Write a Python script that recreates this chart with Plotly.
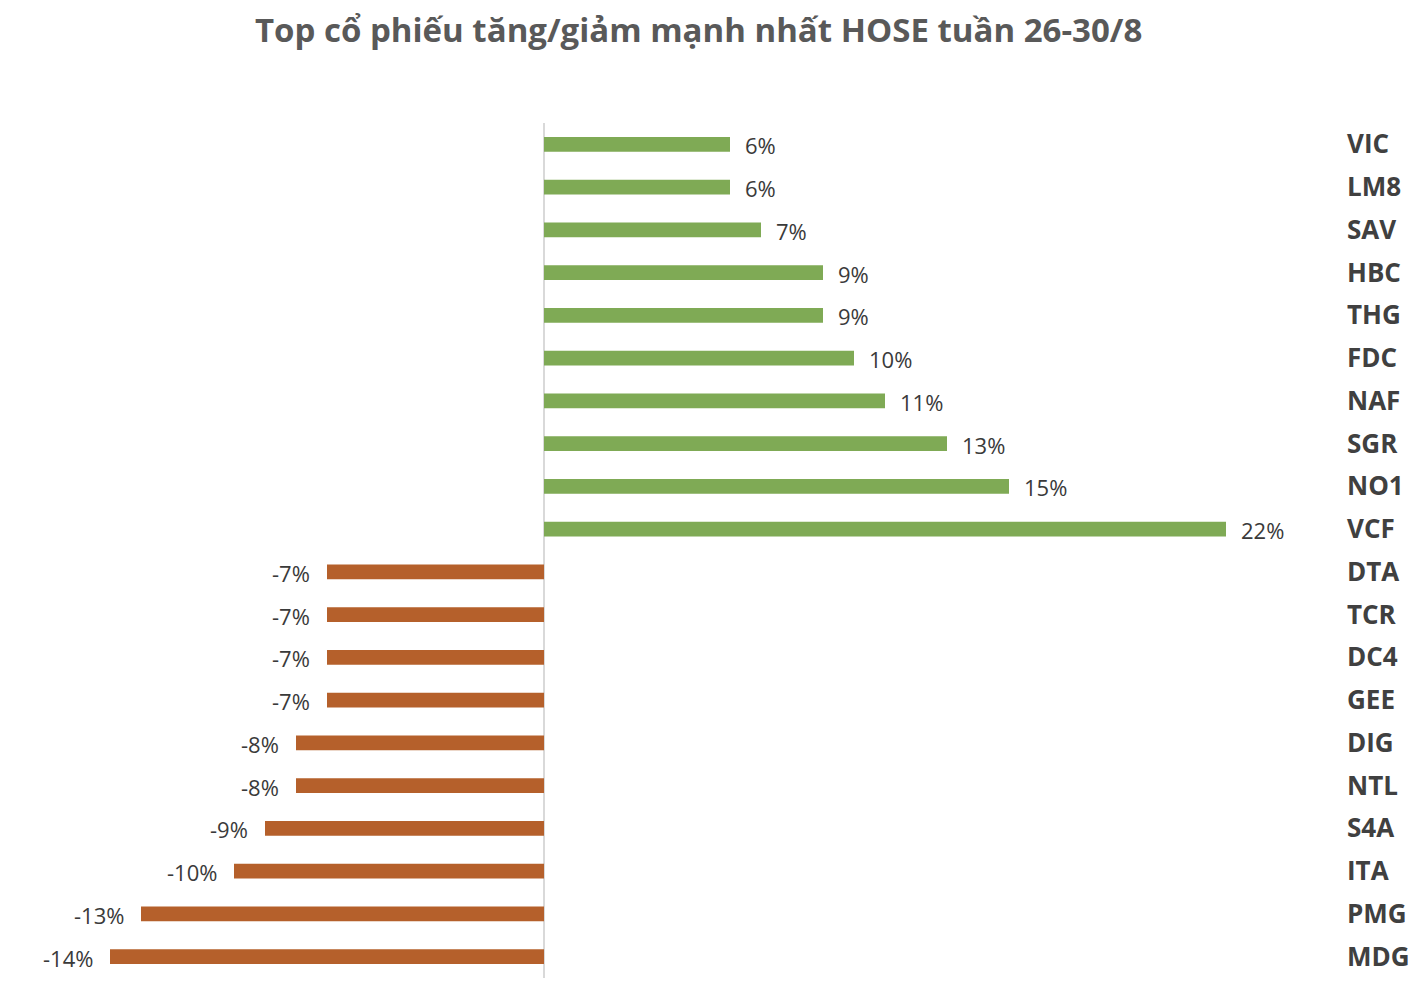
import plotly.graph_objects as go

title_text = "Top cổ phiếu tăng/giảm mạnh nhất HOSE tuần 26-30/8"
tickers = ["VIC", "LM8", "SAV", "HBC", "THG", "FDC", "NAF", "SGR", "NO1", "VCF",
           "DTA", "TCR", "DC4", "GEE", "DIG", "NTL", "S4A", "ITA", "PMG", "MDG"]
changes = [6, 6, 7, 9, 9, 10, 11, 13, 15, 22,
           -7, -7, -7, -7, -8, -8, -9, -10, -13, -14]

GREEN = "#7FAA55"
ORANGE = "#B5602B"
colors = [GREEN if v >= 0 else ORANGE for v in changes]

fig = go.Figure()
fig.add_trace(go.Bar(
    x=changes, y=tickers, orientation="h",
    marker=dict(color=colors, line=dict(width=0)),
    hoverinfo="skip",
))

for t, v in zip(tickers, changes):
    fig.add_annotation(
        x=v, y=t, xref="x", yref="y",
        text=f"{v}%", showarrow=False,
        xanchor="left" if v >= 0 else "right",
        xshift=13 if v >= 0 else -15,
        yshift=-1,
        font=dict(family="Open Sans", size=22, color="#3A3A3A"),
    )

fig.update_layout(
    width=1424, height=984,
    paper_bgcolor="white", plot_bgcolor="white",
    margin=dict(l=71, r=113, t=115, b=14),
    bargap=0.65,
    showlegend=False,
    title=dict(
        text=title_text, x=0.485, xanchor="center", y=0.977, yanchor="middle",
        font=dict(family="Open Sans", size=33, color="#595959", weight="bold"),
    ),
)
fig.update_xaxes(
    range=[-15, 25], showgrid=False, showticklabels=False, ticks="",
    zeroline=True, zerolinecolor="#D9D9D9", zerolinewidth=2, showline=False,
)
fig.update_yaxes(
    categoryorder="array", categoryarray=tickers, autorange="reversed",
    side="right", showgrid=False, showline=False, ticks="",
    ticklabelstandoff=27,
    tickfont=dict(family="Open Sans", size=26, color="#404040", weight="bold"),
)

fig.write_html("out.html")
